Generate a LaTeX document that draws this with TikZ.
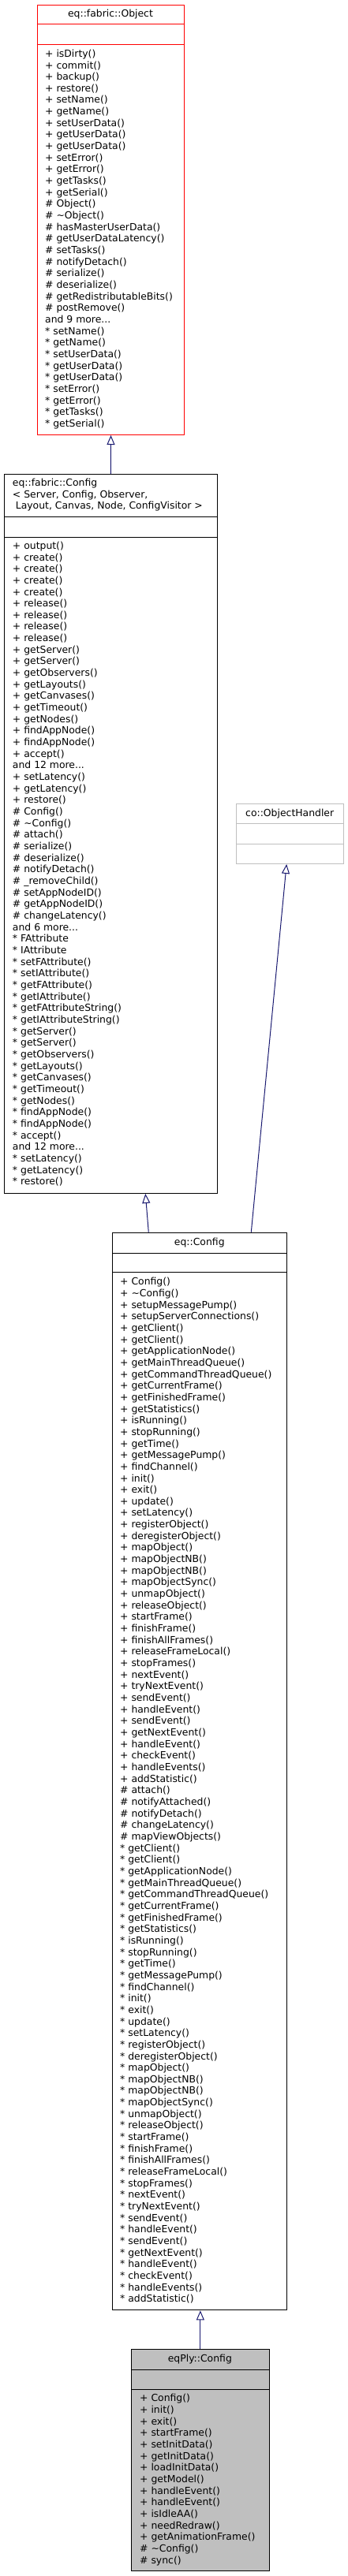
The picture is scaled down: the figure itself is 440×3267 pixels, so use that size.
\documentclass[tikz,border=0pt]{standalone}
\usepackage{fontspec}
\setmainfont{DejaVu Sans}
\usetikzlibrary{arrows.meta}
\definecolor{edgeblue}{HTML}{191970}
\definecolor{greyfill}{HTML}{BFBFBF}
\definecolor{boxred}{HTML}{FF0000}
\newcommand{\memlist}[1]{\begin{tabular}[t]{@{}l@{}}#1\end{tabular}}
\newcommand{\st}{{*}}
\begin{document}
\begin{tikzpicture}[x=1pt,y=-1pt,
  box/.style={draw=black, line width=1pt, fill=white, rectangle, inner sep=0pt, anchor=north west},
  sepline/.style={line width=1pt},
  txt/.style={inner sep=0pt, font=\fontsize{12.4}{14.66}\selectfont},
  members/.style={txt, anchor=north west},
  titletext/.style={txt, anchor=base},
  inh/.style={draw=edgeblue, line width=1pt, -{Triangle[open, length=12pt, width=10pt]}}
]
\useasboundingbox[fill=white] (0,0) rectangle (440,3267);

% ---------------- eq::fabric::Object
\node[box, draw=boxred, minimum width=186.6pt, minimum height=545.3pt] (obj) at (46.7,5.7) {};
\draw[sepline, boxred] (obj.west |- 0,31) -- (obj.east |- 0,31);
\draw[sepline, boxred] (obj.west |- 0,57) -- (obj.east |- 0,57);
\node[titletext] (objtitle) at (140,21.3) {eq::fabric::Object};
\node[members] (objmem) at (57,61.9) {\memlist{+ isDirty()\\
+ commit()\\
+ backup()\\
+ restore()\\
+ setName()\\
+ getName()\\
+ setUserData()\\
+ getUserData()\\
+ getUserData()\\
+ setError()\\
+ getError()\\
+ getTasks()\\
+ getSerial()\\
\# Object()\\
\# \textasciitilde Object()\\
\# hasMasterUserData()\\
\# getUserDataLatency()\\
\# setTasks()\\
\# notifyDetach()\\
\# serialize()\\
\# deserialize()\\
\# getRedistributableBits()\\
\# postRemove()\\
and 9 more...\\
\st{} setName()\\
\st{} getName()\\
\st{} setUserData()\\
\st{} getUserData()\\
\st{} getUserData()\\
\st{} setError()\\
\st{} getError()\\
\st{} getTasks()\\
\st{} getSerial()}};

% ---------------- eq::fabric::Config<...>
\node[box, minimum width=269.7pt, minimum height=912pt] (fab) at (5,601) {};
\draw[sepline] (fab.west |- 0,655.7) -- (fab.east |- 0,655.7);
\draw[sepline] (fab.west |- 0,681) -- (fab.east |- 0,681);
\node[members] (fabtitle) at (15.8,605.9) {\memlist{eq::fabric::Config\\
< Server, Config, Observer,\\
\hspace*{3.9pt}Layout, Canvas, Node, ConfigVisitor >}};
\node[members] (fabmem) at (15.8,685.9) {\memlist{+ output()\\
+ create()\\
+ create()\\
+ create()\\
+ create()\\
+ release()\\
+ release()\\
+ release()\\
+ release()\\
+ getServer()\\
+ getServer()\\
+ getObservers()\\
+ getLayouts()\\
+ getCanvases()\\
+ getTimeout()\\
+ getNodes()\\
+ findAppNode()\\
+ findAppNode()\\
+ accept()\\
and 12 more...\\
+ setLatency()\\
+ getLatency()\\
+ restore()\\
\# Config()\\
\# \textasciitilde Config()\\
\# attach()\\
\# serialize()\\
\# deserialize()\\
\# notifyDetach()\\
\# \_removeChild()\\
\# setAppNodeID()\\
\# getAppNodeID()\\
\# changeLatency()\\
and 6 more...\\
\st{} FAttribute\\
\st{} IAttribute\\
\st{} setFAttribute()\\
\st{} setIAttribute()\\
\st{} getFAttribute()\\
\st{} getIAttribute()\\
\st{} getFAttributeString()\\
\st{} getIAttributeString()\\
\st{} getServer()\\
\st{} getServer()\\
\st{} getObservers()\\
\st{} getLayouts()\\
\st{} getCanvases()\\
\st{} getTimeout()\\
\st{} getNodes()\\
\st{} findAppNode()\\
\st{} findAppNode()\\
\st{} accept()\\
and 12 more...\\
\st{} setLatency()\\
\st{} getLatency()\\
\st{} restore()}};

% ---------------- co::ObjectHandler
\node[box, draw=greyfill, minimum width=135.7pt, minimum height=75.7pt] (oh) at (299.3,1019.3) {};
\draw[sepline, greyfill] (oh.west |- 0,1044.3) -- (oh.east |- 0,1044.3);
\draw[sepline, greyfill] (oh.west |- 0,1070) -- (oh.east |- 0,1070);
\node[titletext] (ohtitle) at (367.2,1035.6) {co::ObjectHandler};

% ---------------- eq::Config
\node[box, minimum width=221pt, minimum height=1366.6pt] (ecfg) at (142.3,1562.7) {};
\draw[sepline] (ecfg.west |- 0,1589) -- (ecfg.east |- 0,1589);
\draw[sepline] (ecfg.west |- 0,1613.7) -- (ecfg.east |- 0,1613.7);
\node[titletext] (ecfgtitle) at (252.8,1579) {eq::Config};
\node[members] (ecfgmem) at (152,1619.3) {\memlist{+ Config()\\
+ \textasciitilde Config()\\
+ setupMessagePump()\\
+ setupServerConnections()\\
+ getClient()\\
+ getClient()\\
+ getApplicationNode()\\
+ getMainThreadQueue()\\
+ getCommandThreadQueue()\\
+ getCurrentFrame()\\
+ getFinishedFrame()\\
+ getStatistics()\\
+ isRunning()\\
+ stopRunning()\\
+ getTime()\\
+ getMessagePump()\\
+ findChannel()\\
+ init()\\
+ exit()\\
+ update()\\
+ setLatency()\\
+ registerObject()\\
+ deregisterObject()\\
+ mapObject()\\
+ mapObjectNB()\\
+ mapObjectNB()\\
+ mapObjectSync()\\
+ unmapObject()\\
+ releaseObject()\\
+ startFrame()\\
+ finishFrame()\\
+ finishAllFrames()\\
+ releaseFrameLocal()\\
+ stopFrames()\\
+ nextEvent()\\
+ tryNextEvent()\\
+ sendEvent()\\
+ handleEvent()\\
+ sendEvent()\\
+ getNextEvent()\\
+ handleEvent()\\
+ checkEvent()\\
+ handleEvents()\\
+ addStatistic()\\
\# attach()\\
\# notifyAttached()\\
\# notifyDetach()\\
\# changeLatency()\\
\# mapViewObjects()\\
\st{} getClient()\\
\st{} getClient()\\
\st{} getApplicationNode()\\
\st{} getMainThreadQueue()\\
\st{} getCommandThreadQueue()\\
\st{} getCurrentFrame()\\
\st{} getFinishedFrame()\\
\st{} getStatistics()\\
\st{} isRunning()\\
\st{} stopRunning()\\
\st{} getTime()\\
\st{} getMessagePump()\\
\st{} findChannel()\\
\st{} init()\\
\st{} exit()\\
\st{} update()\\
\st{} setLatency()\\
\st{} registerObject()\\
\st{} deregisterObject()\\
\st{} mapObject()\\
\st{} mapObjectNB()\\
\st{} mapObjectNB()\\
\st{} mapObjectSync()\\
\st{} unmapObject()\\
\st{} releaseObject()\\
\st{} startFrame()\\
\st{} finishFrame()\\
\st{} finishAllFrames()\\
\st{} releaseFrameLocal()\\
\st{} stopFrames()\\
\st{} nextEvent()\\
\st{} tryNextEvent()\\
\st{} sendEvent()\\
\st{} handleEvent()\\
\st{} sendEvent()\\
\st{} getNextEvent()\\
\st{} handleEvent()\\
\st{} checkEvent()\\
\st{} handleEvents()\\
\st{} addStatistic()}};

% ---------------- eqPly::Config
\node[box, fill=greyfill, minimum width=174.7pt, minimum height=281pt] (ply) at (166,2979) {};
\draw[sepline] (ply.west |- 0,3005) -- (ply.east |- 0,3005);
\draw[sepline] (ply.west |- 0,3030) -- (ply.east |- 0,3030);
\node[titletext] (plytitle) at (253.35,2995) {eqPly::Config};
\node[members] (plymem) at (177,3035.3) {\memlist{+ Config()\\
+ init()\\
+ exit()\\
+ startFrame()\\
+ setInitData()\\
+ getInitData()\\
+ loadInitData()\\
+ getModel()\\
+ handleEvent()\\
+ handleEvent()\\
+ isIdleAA()\\
+ needRedraw()\\
+ getAnimationFrame()\\
\# \textasciitilde Config()\\
\# sync()}};

% ---------------- inheritance connectors
\draw[inh] (fab.north) -- (obj.south);
\draw[inh] ([xshift=46pt]ecfg.north west) -- ([xshift=179.3pt]fab.south west);
\draw[inh] ([xshift=176pt]ecfg.north west) -- ([xshift=-4.5pt]oh.south);
\draw[inh] (ply.north) -- (ply.north |- ecfg.south);
\end{tikzpicture}
\end{document}
